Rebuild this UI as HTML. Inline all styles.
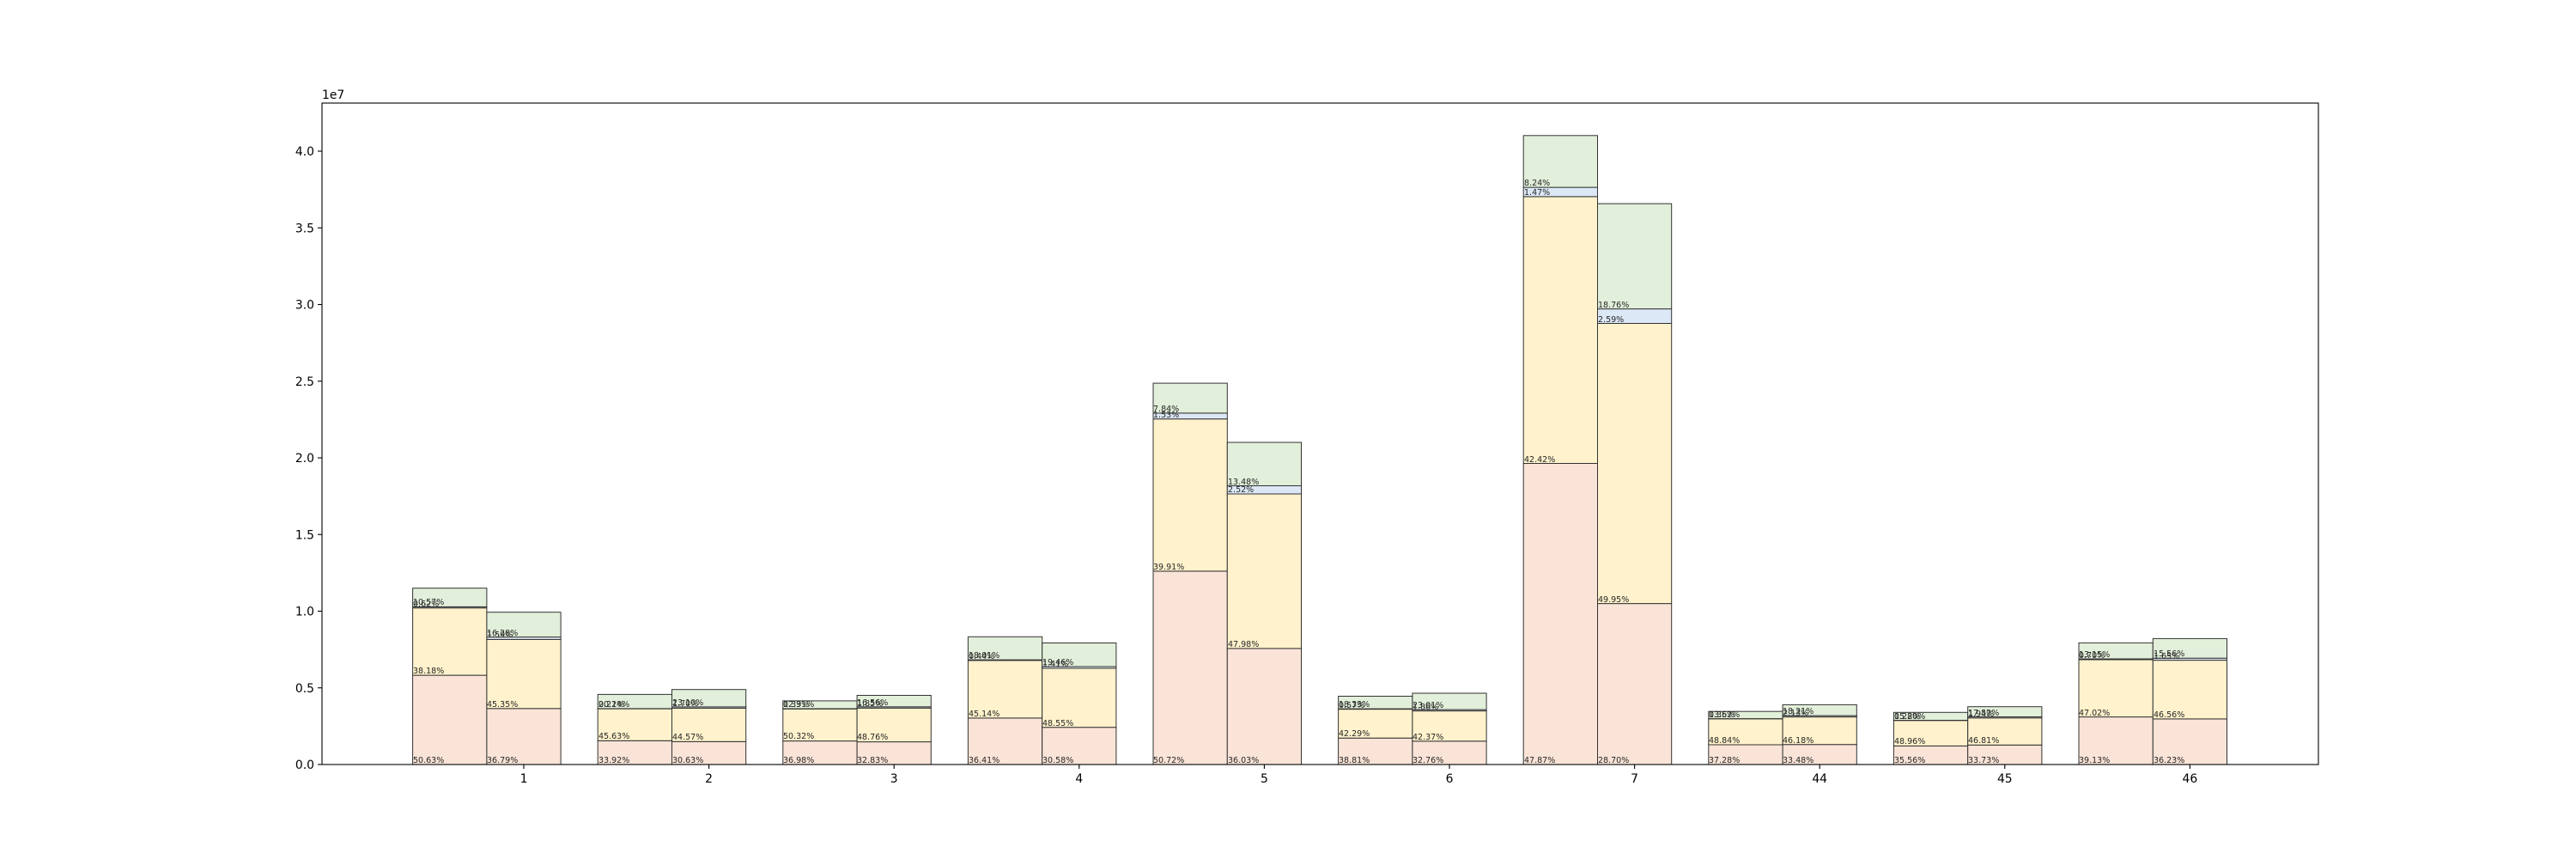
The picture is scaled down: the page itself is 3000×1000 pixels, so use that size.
<!DOCTYPE html>
<html><head><meta charset="utf-8"><style>
html,body{margin:0;padding:0;background:#fff}
svg{display:block}
.t{font-family:"DejaVu Sans","Liberation Sans",sans-serif;font-size:9.5px;fill:#262626}
.k{font-family:"DejaVu Sans","Liberation Sans",sans-serif;font-size:13.9px;fill:#000}
.p{fill:#fae4d7;stroke:#333;stroke-width:1}
.y{fill:#fff2cc;stroke:#333;stroke-width:1}
.b{fill:#dce8f6;stroke:#333;stroke-width:1}
.g{fill:#e2efda;stroke:#333;stroke-width:1}
</style></head><body>
<svg width="3000" height="1000" viewBox="0 0 3000 1000" xmlns="http://www.w3.org/2000/svg">
<rect width="3000" height="1000" fill="#fff"/>
<!-- p0 -->
<rect class="p" x="480.6" y="786.1" width="86.3" height="103.9"/><rect class="y" x="480.6" y="707.7" width="86.3" height="78.4"/><rect class="b" x="480.6" y="706.4" width="86.3" height="1.3"/><rect class="g" x="480.6" y="684.7" width="86.3" height="21.7"/>
<rect class="p" x="566.9" y="824.8" width="86.2" height="65.2"/><rect class="y" x="566.9" y="744.4" width="86.2" height="80.4"/><rect class="b" x="566.9" y="741.6" width="86.2" height="2.8"/><rect class="g" x="566.9" y="712.7" width="86.2" height="28.9"/>
<!-- p1 -->
<rect class="p" x="696.2" y="862.3" width="86.3" height="27.7"/><rect class="y" x="696.2" y="825.1" width="86.3" height="37.2"/><rect class="b" x="696.2" y="824.9" width="86.3" height="0.2"/><rect class="g" x="696.2" y="808.4" width="86.3" height="16.5"/>
<rect class="p" x="782.5" y="863.3" width="86.2" height="26.7"/><rect class="y" x="782.5" y="824.4" width="86.2" height="38.9"/><rect class="b" x="782.5" y="822.9" width="86.2" height="1.5"/><rect class="g" x="782.5" y="802.7" width="86.2" height="20.2"/>
<!-- p2 -->
<rect class="p" x="911.8" y="862.6" width="86.3" height="27.4"/><rect class="y" x="911.8" y="825.3" width="86.3" height="37.3"/><rect class="b" x="911.8" y="825.0" width="86.3" height="0.3"/><rect class="g" x="911.8" y="815.9" width="86.3" height="9.1"/>
<rect class="p" x="998.1" y="863.6" width="86.2" height="26.4"/><rect class="y" x="998.1" y="824.3" width="86.2" height="39.3"/><rect class="b" x="998.1" y="822.8" width="86.2" height="1.5"/><rect class="g" x="998.1" y="809.5" width="86.2" height="13.3"/>
<!-- p3 -->
<rect class="p" x="1127.4" y="835.9" width="86.3" height="54.1"/><rect class="y" x="1127.4" y="768.8" width="86.3" height="67.1"/><rect class="b" x="1127.4" y="768.1" width="86.3" height="0.7"/><rect class="g" x="1127.4" y="741.3" width="86.3" height="26.8"/>
<rect class="p" x="1213.7" y="846.7" width="86.2" height="43.3"/><rect class="y" x="1213.7" y="778.0" width="86.2" height="68.7"/><rect class="b" x="1213.7" y="776.0" width="86.2" height="2.0"/><rect class="g" x="1213.7" y="748.5" width="86.2" height="27.5"/>
<!-- p4 -->
<rect class="p" x="1343.0" y="664.9" width="86.3" height="225.1"/><rect class="y" x="1343.0" y="487.7" width="86.3" height="177.2"/><rect class="b" x="1343.0" y="480.9" width="86.3" height="6.8"/><rect class="g" x="1343.0" y="446.1" width="86.3" height="34.8"/>
<rect class="p" x="1429.3" y="754.9" width="86.2" height="135.1"/><rect class="y" x="1429.3" y="575.0" width="86.2" height="179.9"/><rect class="b" x="1429.3" y="565.5" width="86.2" height="9.5"/><rect class="g" x="1429.3" y="515.0" width="86.2" height="50.5"/>
<!-- p5 -->
<rect class="p" x="1558.6" y="859.2" width="86.3" height="30.8"/><rect class="y" x="1558.6" y="825.6" width="86.3" height="33.6"/><rect class="b" x="1558.6" y="825.1" width="86.3" height="0.5"/><rect class="g" x="1558.6" y="810.5" width="86.3" height="14.6"/>
<rect class="p" x="1644.9" y="862.8" width="86.2" height="27.2"/><rect class="y" x="1644.9" y="827.6" width="86.2" height="35.2"/><rect class="b" x="1644.9" y="826.1" width="86.2" height="1.5"/><rect class="g" x="1644.9" y="807.0" width="86.2" height="19.1"/>
<!-- p6 -->
<rect class="p" x="1774.2" y="539.5" width="86.3" height="350.5"/><rect class="y" x="1774.2" y="228.9" width="86.3" height="310.6"/><rect class="b" x="1774.2" y="218.1" width="86.3" height="10.8"/><rect class="g" x="1774.2" y="157.8" width="86.3" height="60.3"/>
<rect class="p" x="1860.5" y="702.6" width="86.2" height="187.4"/><rect class="y" x="1860.5" y="376.5" width="86.2" height="326.1"/><rect class="b" x="1860.5" y="359.6" width="86.2" height="16.9"/><rect class="g" x="1860.5" y="237.1" width="86.2" height="122.5"/>
<!-- p7 -->
<rect class="p" x="1989.8" y="867.0" width="86.3" height="23.0"/><rect class="y" x="1989.8" y="836.8" width="86.3" height="30.2"/><rect class="b" x="1989.8" y="836.6" width="86.3" height="0.2"/><rect class="g" x="1989.8" y="828.2" width="86.3" height="8.4"/>
<rect class="p" x="2076.1" y="866.7" width="86.2" height="23.3"/><rect class="y" x="2076.1" y="834.6" width="86.2" height="32.1"/><rect class="b" x="2076.1" y="833.1" width="86.2" height="1.5"/><rect class="g" x="2076.1" y="820.4" width="86.2" height="12.7"/>
<!-- p8 -->
<rect class="p" x="2205.4" y="868.4" width="86.3" height="21.6"/><rect class="y" x="2205.4" y="838.7" width="86.3" height="29.7"/><rect class="b" x="2205.4" y="838.5" width="86.3" height="0.2"/><rect class="g" x="2205.4" y="829.3" width="86.3" height="9.2"/>
<rect class="p" x="2291.7" y="867.3" width="86.2" height="22.7"/><rect class="y" x="2291.7" y="835.8" width="86.2" height="31.5"/><rect class="b" x="2291.7" y="834.5" width="86.2" height="1.3"/><rect class="g" x="2291.7" y="822.7" width="86.2" height="11.8"/>
<!-- p9 -->
<rect class="p" x="2421.0" y="834.6" width="86.3" height="55.4"/><rect class="y" x="2421.0" y="768.0" width="86.3" height="66.6"/><rect class="b" x="2421.0" y="767.0" width="86.3" height="1.0"/><rect class="g" x="2421.0" y="748.4" width="86.3" height="18.6"/>
<rect class="p" x="2507.3" y="836.9" width="86.2" height="53.1"/><rect class="y" x="2507.3" y="768.6" width="86.2" height="68.3"/><rect class="b" x="2507.3" y="766.2" width="86.2" height="2.4"/><rect class="g" x="2507.3" y="743.4" width="86.2" height="22.8"/>

<!-- labels -->
<g class="t">
<text x="481" y="888">50.63%</text><text x="481" y="784">38.18%</text><text x="481" y="706">0.62%</text><text x="481" y="704">10.57%</text>
<text x="567" y="888">36.79%</text><text x="567" y="823">45.35%</text><text x="567" y="742">1.59%</text><text x="567" y="740">16.28%</text>
<text x="697" y="888">33.92%</text><text x="697" y="860">45.63%</text><text x="697" y="823">0.21%</text><text x="697" y="823">20.24%</text>
<text x="783" y="888">30.63%</text><text x="783" y="861">44.57%</text><text x="783" y="822">1.70%</text><text x="783" y="821">23.10%</text>
<text x="912" y="888">36.98%</text><text x="912" y="860">50.32%</text><text x="912" y="823">0.39%</text><text x="912" y="823">12.31%</text>
<text x="998" y="888">32.83%</text><text x="998" y="861">48.76%</text><text x="998" y="822">1.85%</text><text x="998" y="821">16.56%</text>
<text x="1128" y="888">36.41%</text><text x="1128" y="834">45.14%</text><text x="1128" y="767">0.44%</text><text x="1128" y="766">18.01%</text>
<text x="1214" y="888">30.58%</text><text x="1214" y="845">48.55%</text><text x="1214" y="776">1.41%</text><text x="1214" y="774">19.46%</text>
<text x="1343" y="888">50.72%</text><text x="1343" y="663">39.91%</text><text x="1343" y="486">1.53%</text><text x="1343" y="479">7.84%</text>
<text x="1430" y="888">36.03%</text><text x="1430" y="753">47.98%</text><text x="1430" y="573">2.52%</text><text x="1430" y="564">13.48%</text>
<text x="1559" y="888">38.81%</text><text x="1559" y="857">42.29%</text><text x="1559" y="824">0.57%</text><text x="1559" y="823">18.33%</text>
<text x="1645" y="888">32.76%</text><text x="1645" y="861">42.37%</text><text x="1645" y="826">1.86%</text><text x="1645" y="824">23.01%</text>
<text x="1775" y="888">47.87%</text><text x="1775" y="538">42.42%</text><text x="1775" y="227">1.47%</text><text x="1775" y="216">8.24%</text>
<text x="1861" y="888">28.70%</text><text x="1861" y="701">49.95%</text><text x="1861" y="375">2.59%</text><text x="1861" y="358">18.76%</text>
<text x="1990" y="888">37.28%</text><text x="1990" y="865">48.84%</text><text x="1990" y="835">0.36%</text><text x="1990" y="835">13.52%</text>
<text x="2076" y="888">33.48%</text><text x="2076" y="865">46.18%</text><text x="2076" y="833">2.13%</text><text x="2076" y="831">18.21%</text>
<text x="2206" y="888">35.56%</text><text x="2206" y="866">48.96%</text><text x="2206" y="837">0.28%</text><text x="2206" y="837">15.20%</text>
<text x="2292" y="888">33.73%</text><text x="2292" y="865">46.81%</text><text x="2292" y="834">1.94%</text><text x="2292" y="833">17.52%</text>
<text x="2421" y="888">39.13%</text><text x="2421" y="833">47.02%</text><text x="2421" y="766">0.70%</text><text x="2421" y="765">13.15%</text>
<text x="2508" y="888">36.23%</text><text x="2508" y="835">46.56%</text><text x="2508" y="767">1.65%</text><text x="2508" y="764">15.56%</text>
</g>

<!-- axes frame -->
<rect x="375" y="120" width="2325" height="770" fill="none" stroke="#000" stroke-width="1.1"/>
<!-- y ticks -->
<g stroke="#000" stroke-width="1.1">
<line x1="370" y1="890" x2="375" y2="890"/><line x1="370" y1="800.75" x2="375" y2="800.75"/><line x1="370" y1="711.5" x2="375" y2="711.5"/><line x1="370" y1="622.25" x2="375" y2="622.25"/><line x1="370" y1="533" x2="375" y2="533"/><line x1="370" y1="443.75" x2="375" y2="443.75"/><line x1="370" y1="354.5" x2="375" y2="354.5"/><line x1="370" y1="265.25" x2="375" y2="265.25"/><line x1="370" y1="176" x2="375" y2="176"/>
<line x1="610" y1="890" x2="610" y2="895"/><line x1="825.6" y1="890" x2="825.6" y2="895"/><line x1="1041.2" y1="890" x2="1041.2" y2="895"/><line x1="1256.8" y1="890" x2="1256.8" y2="895"/><line x1="1472.4" y1="890" x2="1472.4" y2="895"/><line x1="1688" y1="890" x2="1688" y2="895"/><line x1="1903.6" y1="890" x2="1903.6" y2="895"/><line x1="2119.2" y1="890" x2="2119.2" y2="895"/><line x1="2334.8" y1="890" x2="2334.8" y2="895"/><line x1="2550.4" y1="890" x2="2550.4" y2="895"/>
</g>
<g class="k" text-anchor="end">
<text x="366" y="895">0.0</text><text x="366" y="805.75">0.5</text><text x="366" y="716.5">1.0</text><text x="366" y="627.25">1.5</text><text x="366" y="538">2.0</text><text x="366" y="448.75">2.5</text><text x="366" y="359.5">3.0</text><text x="366" y="270.25">3.5</text><text x="366" y="181">4.0</text>
</g>
<g class="k" text-anchor="middle">
<text x="610" y="911">1</text><text x="825.6" y="911">2</text><text x="1041.2" y="911">3</text><text x="1256.8" y="911">4</text><text x="1472.4" y="911">5</text><text x="1688" y="911">6</text><text x="1903.6" y="911">7</text><text x="2119.2" y="911">44</text><text x="2334.8" y="911">45</text><text x="2550.4" y="911">46</text>
</g>
<text class="k" x="375" y="115">1e7</text>
</svg>
</body></html>
